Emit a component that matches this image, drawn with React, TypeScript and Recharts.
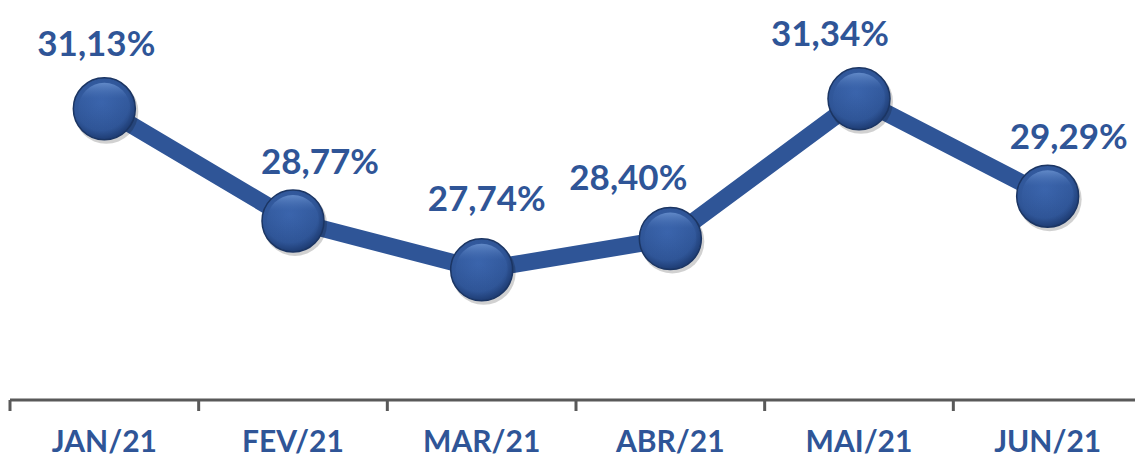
import React from "react";
import { LineChart, Line, XAxis, YAxis, LabelList } from "recharts";

const months = ["JAN/21", "FEV/21", "MAR/21", "ABR/21", "MAI/21", "JUN/21"];
const rates = [31.13, 28.77, 27.74, 28.4, 31.34, 29.29];

// small nudges so labels sit like in the original slide
const labelDx = [-8, 27, 5, -42, -29, 21];
const labelDy = [0, 6, -6, 4, 0, 6];

const data = months.map((m, i) => ({ month: m, rate: rates[i] }));

const BLUE = "#2F5597";
const W = 1142;
const LEFT = 10;
const BAND = (W - LEFT) / months.length;
const FONT = "Lato, 'Open Sans', sans-serif";

const fmt = (v: number) => v.toFixed(2).replace(".", ",") + "%";

function Ball(props: any) {
  const { cx, cy, index } = props;
  if (cx == null || cy == null) return null;
  return (
    <g key={`ball-${index}`}>
      <circle cx={cx + 2} cy={cy + 3} r={32} fill="#000" opacity={0.18} />
      <circle cx={cx} cy={cy} r={31} fill="url(#ballFill)" stroke="#1B3563" strokeWidth={1.5} />
      <circle cx={cx} cy={cy} r={26} fill="url(#ballInner)" />
    </g>
  );
}

function Tick(props: any) {
  const { x, payload, index } = props;
  return (
    <g>
      <line x1={x - BAND / 2} y1={400} x2={x - BAND / 2} y2={411} stroke="#595959" strokeWidth={3} />
      {index === months.length - 1 && (
        <line x1={x + BAND / 2} y1={400} x2={x + BAND / 2} y2={411} stroke="#595959" strokeWidth={3} />
      )}
      <text x={x} y={452} textAnchor="middle" fill={BLUE} fontFamily={FONT} fontWeight={700} fontSize={30}>
        {payload.value}
      </text>
    </g>
  );
}

function ValueLabel(props: any) {
  const { x, y, value, index } = props;
  return (
    <text
      x={x + labelDx[index]}
      y={y - 53 + labelDy[index]}
      textAnchor="middle"
      fill={BLUE}
      fontFamily={FONT}
      fontWeight={700}
      fontSize={35}
    >
      {fmt(value)}
    </text>
  );
}

export default function App() {
  return (
    <div style={{ width: 1135, height: 460, overflow: "hidden", background: "#fff" }}>
      <style>{`body{margin:0}`}</style>
      <LineChart width={W} height={460} data={data} margin={{ top: 67.5, right: 0, bottom: 0, left: LEFT }}>
        <defs>
          <radialGradient id="ballFill" cx="0.45" cy="0.4" r="0.6">
            <stop offset="0%" stopColor="#3A64AC" />
            <stop offset="75%" stopColor="#2F5597" />
            <stop offset="100%" stopColor="#1E3C73" />
          </radialGradient>
          <linearGradient id="ballInner" x1="0" y1="0" x2="0" y2="1">
            <stop offset="0%" stopColor="#7199D6" stopOpacity={0.75} />
            <stop offset="30%" stopColor="#3D67AF" stopOpacity={0.3} />
            <stop offset="100%" stopColor="#2F5597" stopOpacity={0} />
          </linearGradient>
        </defs>
        <XAxis
          dataKey="month"
          scale="band"
          height={60}
          axisLine={{ stroke: "#595959", strokeWidth: 3 }}
          tickLine={false}
          tick={<Tick />}
          interval={0}
        />
        <YAxis hide domain={[25, 32]} />
        <Line
          dataKey="rate"
          stroke={BLUE}
          strokeWidth={17}
          dot={<Ball />}
          activeDot={false}
          isAnimationActive={false}
        >
          <LabelList dataKey="rate" content={<ValueLabel />} />
        </Line>
      </LineChart>
    </div>
  );
}
